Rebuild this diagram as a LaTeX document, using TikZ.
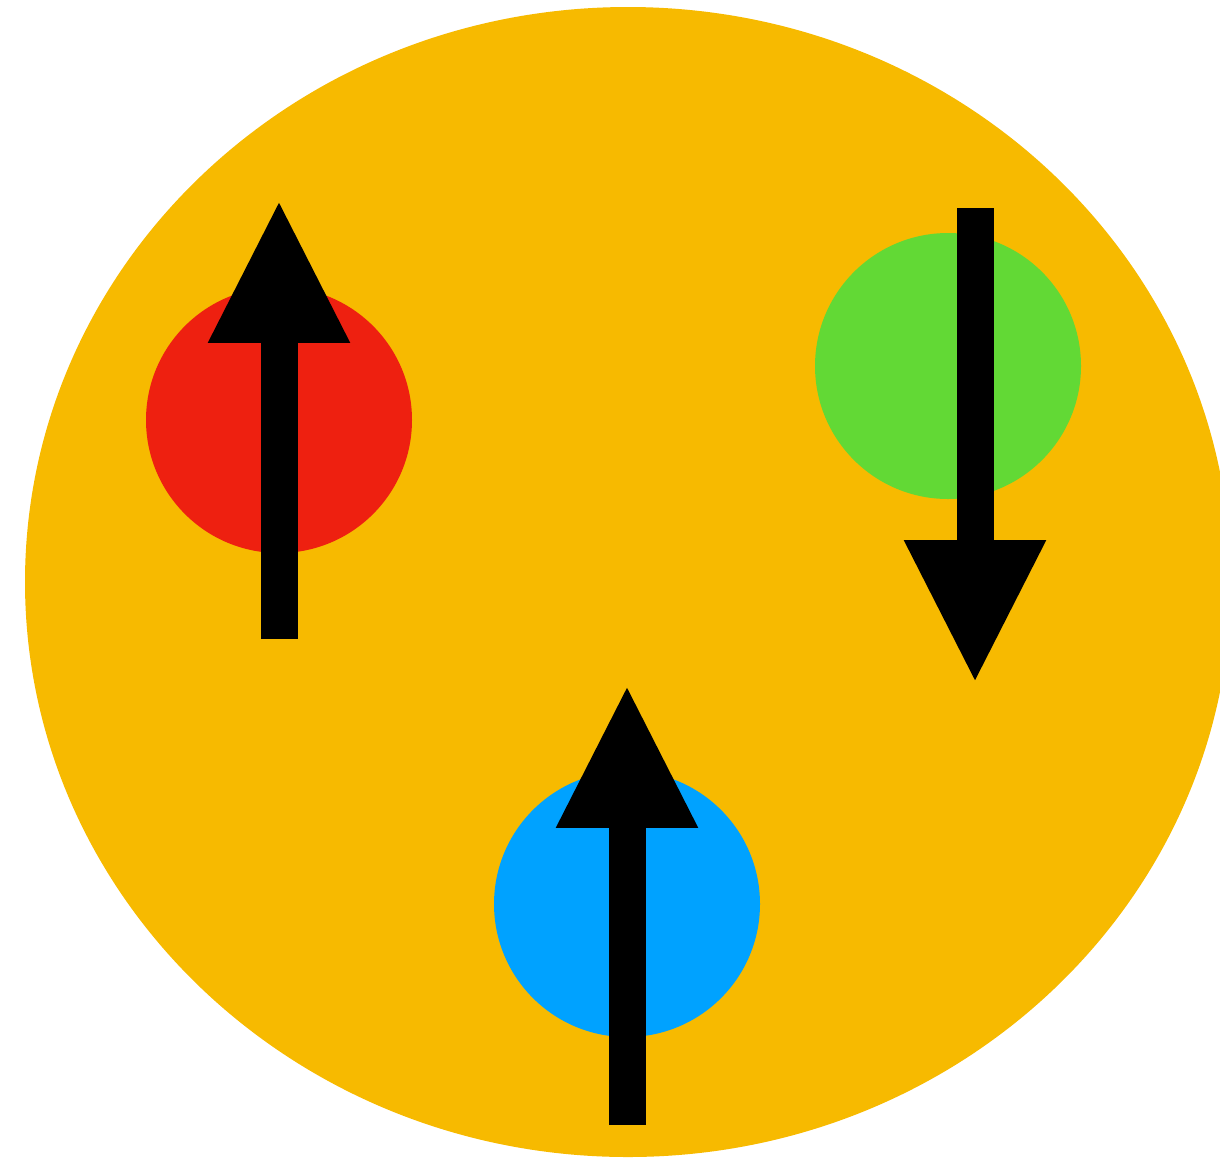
\documentclass[tikz,border=0pt]{standalone}
\usetikzlibrary{arrows.meta}

\def\rcirc{133}
\definecolor{spbag}{HTML}{F7BA00}
\definecolor{spred}{HTML}{EE2010}
\definecolor{spgreen}{HTML}{62D935}
\definecolor{spblue}{HTML}{00A2FF}

\begin{document}
\begin{tikzpicture}[x=0.02cm, y=-0.02cm,
  spin/.style={
    draw=black,
    line width=0.74cm,
    line cap=butt,
    -{Triangle[length=2.88cm, width=2.62cm]}
  },
  quark/.style={
    circle,
    draw=none,
    inner sep=0pt,
    minimum size=2*\rcirc*0.02cm
  }
]

  \useasboundingbox (0,0) rectangle (1220,1157);
  \clip (0,0) rectangle (1220,1157);

  % --------------------------------------------------------------------
  % Bag
  % --------------------------------------------------------------------

  \fill[spbag] (628,582) ellipse [x radius=603, y radius=575];

  % --------------------------------------------------------------------
  % Quarks
  % --------------------------------------------------------------------

  \node[quark, fill=spred]   (qred)   at (279,420) {};
  \node[quark, fill=spgreen] (qgreen) at (948,366) {};
  \node[quark, fill=spblue]  (qblue)  at (627,904) {};

  % --------------------------------------------------------------------
  % Spins
  % --------------------------------------------------------------------

  \coordinate (redtail)   at (279,639);
  \coordinate (redtip)    at (279,199);
  \coordinate (greentail) at (975,208);
  \coordinate (greentip)  at (975,684);
  \coordinate (bluetail)  at (627,1125);
  \coordinate (bluetip)   at (627,684);

  \draw[spin] (redtail) -- (redtip);
  \draw[spin] (greentail) -- (greentip);
  \draw[spin] (bluetail) -- (bluetip);

\end{tikzpicture}
\end{document}
